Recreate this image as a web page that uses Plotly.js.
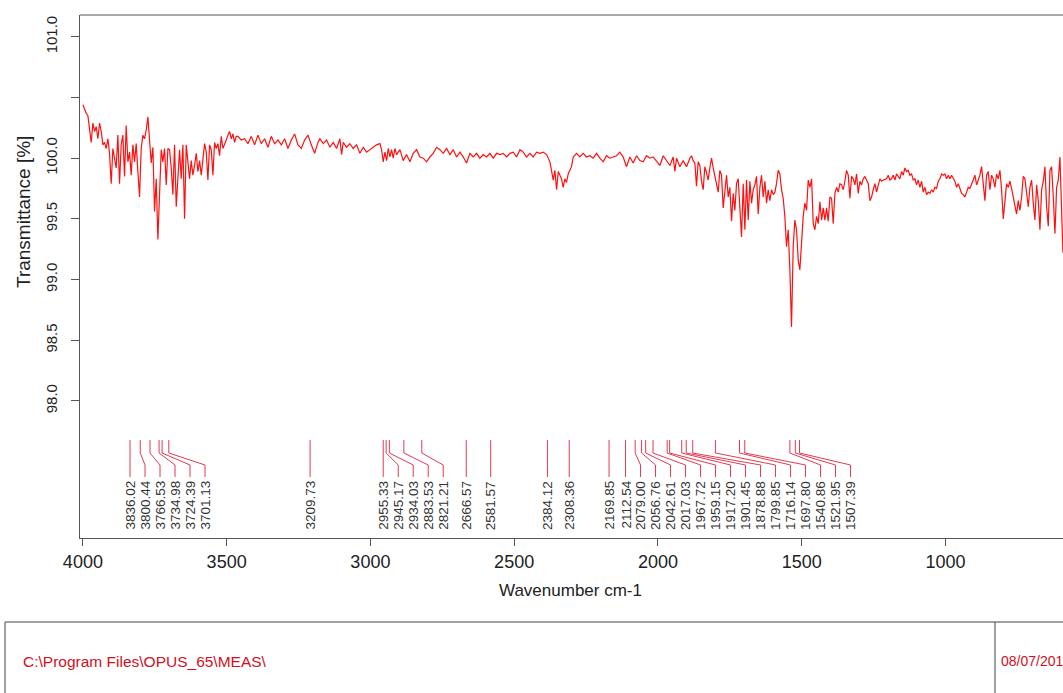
<!DOCTYPE html>
<html>
<head>
<meta charset="utf-8">
<script src="https://cdn.plot.ly/plotly-3.0.1.min.js"></script>
<style>
html,body{margin:0;padding:0;background:#fff;overflow:hidden;}
#chart{width:1063px;height:693px;}
</style>
</head>
<body>
<div id="chart"></div>
<script>
// ---------------- data ----------------
const wavenumber = [
4000.0,3994.2,3988.4,3982.6,3976.8,3971.0,3965.2,3959.4,3953.6,3947.8,3942.0,3936.2,3930.4,3924.6,3918.8,3913.0,3907.3,3901.5,3895.7,3889.9,
3884.1,3878.3,3872.5,3866.7,3860.9,3855.1,3849.3,3843.5,3837.7,3831.9,3826.1,3820.3,3814.5,3808.7,3802.9,3797.1,3791.3,3785.5,3779.7,3773.9,
3768.1,3762.3,3756.5,3750.7,3744.9,3739.1,3733.3,3727.5,3721.7,3715.9,3710.1,3704.3,3698.5,3692.7,3686.9,3681.1,3675.3,3669.5,3663.7,3657.9,
3652.1,3646.3,3640.5,3634.7,3628.9,3623.1,3617.3,3611.5,3605.7,3599.9,3594.1,3588.3,3582.5,3576.7,3570.9,3565.1,3559.3,3553.5,3547.7,3541.9,
3536.1,3530.3,3524.5,3518.7,3512.9,3507.1,3501.3,3495.5,3489.7,3483.9,3478.1,3472.3,3466.5,3460.7,3449.1,3437.5,3425.9,3414.3,3402.7,3391.1,
3379.5,3367.9,3356.3,3344.7,3333.1,3321.5,3309.9,3298.3,3286.7,3275.1,3263.5,3251.9,3240.3,3228.7,3217.1,3205.5,3193.9,3182.3,
3175.6,3164.0,3152.4,3140.8,3129.2,3117.6,3106.0,3100.2,3094.4,3082.9,3071.3,3059.7,3048.1,3036.5,3024.9,3013.3,3001.7,2990.1,2978.5,2966.9,
2961.1,2955.3,2949.5,2943.7,2937.9,2932.1,2926.3,2920.5,2914.7,2908.9,2897.3,2885.7,2874.2,2862.6,2851.0,2839.4,2827.8,2816.2,2804.6,2793.0,
2781.4,2769.8,2758.2,2746.6,2735.0,2723.4,2711.8,2700.2,2688.6,2677.0,2665.5,2653.9,2642.3,2630.7,2619.1,2607.5,2595.9,2584.3,2572.7,2561.1,
2549.5,2537.9,2526.3,2514.7,2503.1,2491.5,2479.9,2468.3,2456.8,2445.2,2433.6,2422.0,2410.4,2398.8,2387.2,2375.6,2369.8,2364.0,2358.2,2352.4,
2346.6,2335.2,2329.4,2323.6,2317.8,2312.0,2306.2,2300.4,2294.6,2283.0,2271.4,2259.8,2248.2,2236.7,2225.1,2213.5,2201.9,2190.3,2178.7,2167.1,
2155.5,2143.9,2132.3,2120.7,2109.1,2097.5,2085.9,2074.3,2062.7,2051.2,2039.6,2028.0,2016.4,2004.8,1993.2,1981.6,1970.0,1958.4,1946.8,1941.0,
1935.2,1923.6,1912.0,1900.4,1888.8,1883.0,1877.2,1871.4,1865.7,1859.9,1854.1,1848.3,1842.5,1836.7,1830.9,1825.1,1819.3,1813.5,1807.7,1801.9,
1796.1,1790.3,1784.5,1778.7,1772.9,1767.1,1761.3,1755.5,1749.7,1743.9,1738.1,1732.3,1726.5,1720.7,1714.9,1709.1,1703.3,1697.5,1691.7,1685.9,
1680.1,1674.3,1668.5,1662.7,1656.9,1651.1,1645.3,1639.5,1633.7,1627.9,1622.1,1616.3,1610.5,1604.7,1598.9,1593.1,1587.4,1581.6,1575.8,1570.0,
1564.2,1558.4,1552.6,1546.8,1541.0,1535.2,1529.4,1523.6,1517.8,1512.0,1506.2,1500.4,1494.6,1488.8,1483.0,
1477.1,1471.3,1465.5,1459.7,1453.9,1448.1,1442.3,1436.5,1430.7,1424.9,1419.1,1413.3,1407.6,1401.8,1396.0,1390.2,1384.4,1378.6,1372.8,1367.0,
1361.2,1355.4,1349.6,1343.8,1338.0,1332.2,1326.4,1320.6,1314.8,1309.0,1303.2,1297.4,1291.6,1285.8,1280.0,1274.2,1268.4,1262.6,1256.8,1251.0,
1245.3,1239.5,1233.7,1227.9,1222.1,1216.3,1204.7,1198.9,1193.1,1187.3,1181.5,1175.7,1169.9,1164.1,1158.3,1152.5,1146.7,1140.9,1135.1,1129.3,
1123.5,1117.7,1111.9,1106.1,1100.3,1094.5,1088.7,1082.9,1077.1,1071.3,1065.5,1059.7,1053.9,1048.1,1042.3,1036.5,1030.7,1024.9,1019.1,1013.3,
1007.5,1001.7,995.9,990.1,984.3,978.5,972.7,966.9,961.1,955.3,949.5,943.8,938.0,932.2,926.4,920.6,914.8,909.0,903.2,897.4,
891.6,885.8,880.0,874.2,868.4,862.6,856.8,851.0,845.2,839.4,833.6,827.8,822.0,816.2,810.4,804.6,798.8,793.0,787.2,781.4,
775.6,769.8,764.0,758.2,752.4,746.6,740.8,735.0,729.2,723.4,717.6,711.8,706.0,700.2,694.4,688.6,682.8,677.0,671.2,665.4,
659.6,653.8,648.0,642.2,636.4,630.6,624.8,619.0,613.2,607.4,601.6,595.8,591.2
];
const transmittance = [
100.44,100.40,100.37,100.35,100.24,100.13,100.29,100.22,100.26,100.16,100.29,100.22,100.11,100.13,100.08,100.16,100.04,99.79,100.08,100.00,
99.92,100.19,99.79,100.11,100.19,99.85,100.27,99.97,100.05,99.86,100.11,99.97,100.12,99.89,99.68,100.08,100.19,100.16,100.23,100.34,
100.11,99.96,100.09,99.56,99.83,99.33,99.70,100.07,99.97,100.08,99.78,100.08,100.07,99.92,99.70,100.11,99.60,99.89,100.07,99.83,
100.11,99.50,100.11,99.97,99.83,99.98,99.86,99.94,100.04,99.89,99.98,99.86,99.97,100.12,100.05,99.82,100.11,100.07,99.86,100.13,
100.08,100.12,100.02,100.18,100.08,100.11,100.15,100.19,100.22,100.16,100.20,100.13,100.18,100.18,100.15,100.16,100.12,100.18,100.11,100.19,
100.12,100.16,100.09,100.18,100.12,100.15,100.11,100.16,100.08,100.15,100.20,100.11,100.08,100.15,100.19,100.11,100.04,100.13,
100.16,100.12,100.15,100.09,100.13,100.08,100.16,100.03,100.13,100.09,100.12,100.08,100.11,100.04,100.09,100.05,100.07,100.09,100.11,100.12,
100.07,99.97,100.05,99.98,100.08,100.01,100.07,100.00,100.08,100.03,100.07,99.98,100.03,99.97,100.04,100.07,100.01,100.00,99.97,100.01,
100.04,100.09,100.07,100.04,100.08,100.03,100.07,100.01,100.05,100.01,99.96,100.04,100.01,100.04,100.00,100.03,100.01,100.04,100.00,100.04,
100.03,100.04,100.01,100.04,100.05,100.01,100.07,100.05,100.01,100.04,100.01,100.05,100.04,100.05,100.03,99.97,99.90,99.82,99.90,99.74,
99.89,99.83,99.76,99.83,99.80,99.87,99.90,99.93,100.01,100.04,100.01,100.04,100.01,100.02,100.00,100.04,100.00,99.97,100.02,100.00,
100.01,100.02,100.05,100.01,99.93,100.01,99.96,100.02,99.98,99.97,100.02,100.00,100.01,99.97,99.94,100.02,99.98,99.94,100.01,99.89,
100.00,99.93,99.98,99.93,100.00,100.02,99.98,99.96,99.77,99.97,99.94,99.81,99.74,99.93,99.88,99.82,99.92,100.00,99.92,99.85,
99.79,99.72,99.90,99.86,99.59,99.76,99.86,99.68,99.76,99.48,99.71,99.57,99.79,99.83,99.60,99.35,99.79,99.41,99.82,99.49,
99.81,99.63,99.74,99.78,99.85,99.54,99.76,99.86,99.68,99.81,99.63,99.74,99.65,99.74,99.70,99.72,99.79,99.90,99.87,99.74,
99.67,99.52,99.27,99.41,99.08,98.61,99.27,99.49,99.41,99.16,99.08,99.33,99.52,99.63,99.57,
99.82,99.76,99.83,99.46,99.41,99.52,99.46,99.64,99.49,99.59,99.49,99.59,99.48,99.68,99.67,99.46,99.71,99.76,99.72,99.79,
99.78,99.74,99.81,99.90,99.86,99.67,99.85,99.83,99.78,99.87,99.71,99.81,99.78,99.83,99.85,99.82,99.79,99.65,99.68,99.74,
99.79,99.72,99.78,99.83,99.81,99.82,99.83,99.86,99.82,99.83,99.86,99.82,99.87,99.85,99.83,99.89,99.86,99.92,99.89,99.90,
99.86,99.87,99.82,99.83,99.78,99.82,99.76,99.81,99.72,99.76,99.70,99.72,99.71,99.74,99.72,99.76,99.75,99.81,99.83,99.87,
99.86,99.87,99.83,99.86,99.83,99.86,99.83,99.81,99.76,99.79,99.75,99.71,99.70,99.68,99.72,99.76,99.75,99.78,99.82,99.86,
99.78,99.82,99.86,99.93,99.81,99.65,99.86,99.89,99.74,99.86,99.83,99.76,99.87,99.83,99.90,99.74,99.50,99.68,99.79,99.76,
99.81,99.75,99.68,99.60,99.54,99.65,99.57,99.68,99.85,99.83,99.71,99.60,99.76,99.82,99.63,99.49,99.78,99.65,99.41,99.74,
99.81,99.93,99.60,99.44,99.90,99.93,99.68,99.38,99.76,99.82,100.01,99.63,99.22
];
const peakPositions = [3836.02,3800.44,3766.53,3734.98,3724.39,3701.13,3209.73,2955.33,2945.17,2934.03,2883.53,2821.21,
  2666.57,2581.57,2384.12,2308.36,2169.85,2112.54,2079.00,2056.76,2042.61,2017.03,1967.72,1959.15,1917.20,1901.45,
  1878.88,1799.85,1716.14,1697.80,1540.86,1521.95,1507.39];
const xTickValues = [4000,3500,3000,2500,2000,1500,1000];
const yTickValues = [98.0,98.5,99.0,99.5,100.0,100.5,101.0];
const yTickLabels = ['98.0','98.5','99.0','99.5','100.0','','101.0'];
const xTitle = 'Wavenumber cm-1';
const yTitle = 'Transmittance [%]';
const pathText = 'C:\\Program Files\\OPUS_65\\MEAS\\';
const dateText = '08/07/201';

// ---------------- layout geometry ----------------
const W = 1063, H = 693;
const M = {l: 80, r: 0, t: 15, b: 155};
const xRange = [4010, 591];
const yRange = [96.87, 101.18];
const plotW = W - M.l - M.r, plotH = H - M.t - M.b;
const unitsPerPx = (xRange[0] - xRange[1]) / plotW;
const pxOfW = w => (xRange[0] - w) / unitsPerPx;          // px from plot left
const wOfPx = p => xRange[0] - p * unitsPerPx;
const paperX = px => (px - M.l) / plotW;                    // page px -> paper
const paperY = py => (H - M.b - py) / plotH;

const FONT = 'Liberation Sans, Arial, sans-serif';
const peakColor = '#e23a52';

// peak marker lines + labels, labels spread to a minimum spacing
const shapes = [];
const annotations = [];
const minGap = 15;
let prev = -1e9;
const yTop = paperY(440), yB1 = paperY(453), yB2 = paperY(465), yBot = paperY(477), yLab = paperY(479);
peakPositions.forEach(w => {
  const p = Math.max(pxOfW(w), prev + minGap);
  prev = p;
  const wl = wOfPx(p);
  shapes.push({type: 'path', xref: 'x', yref: 'paper',
    path: `M ${w},${yTop} L ${w},${yB1} L ${wl},${yB2} L ${wl},${yBot}`,
    line: {color: peakColor, width: 1}});
  annotations.push({xref: 'x', yref: 'paper', x: wl, y: yLab, text: w.toFixed(2),
    showarrow: false, textangle: -90, xanchor: 'center', yanchor: 'top',
    font: {family: FONT, size: 13.5, color: '#333'}});
});

// frame top line
shapes.push({type: 'line', xref: 'paper', yref: 'paper', x0: 0, x1: 1, y0: 1, y1: 1,
  line: {color: '#555', width: 1}});
// bottom info box
shapes.push({type: 'rect', xref: 'paper', yref: 'paper',
  x0: paperX(5), x1: paperX(1120), y0: paperY(622), y1: paperY(740),
  line: {color: '#444', width: 1}});
shapes.push({type: 'line', xref: 'paper', yref: 'paper',
  x0: paperX(995), x1: paperX(995), y0: paperY(622), y1: paperY(740),
  line: {color: '#444', width: 1}});

// axis titles
annotations.push({xref: 'paper', yref: 'paper', x: paperX(570), y: paperY(590), text: xTitle,
  showarrow: false, xanchor: 'center', yanchor: 'middle', font: {family: FONT, size: 17, color: '#222'}});
annotations.push({xref: 'paper', yref: 'paper', x: paperX(23), y: paperY(212), text: yTitle,
  showarrow: false, textangle: -90, xanchor: 'center', yanchor: 'middle', font: {family: FONT, size: 19, color: '#222'}});
// box texts
annotations.push({xref: 'paper', yref: 'paper', x: paperX(21), y: paperY(661), text: pathText,
  showarrow: false, xanchor: 'left', yanchor: 'middle', font: {family: FONT, size: 15.5, color: '#d0101e'}});
annotations.push({xref: 'paper', yref: 'paper', x: paperX(999), y: paperY(661), text: dateText,
  showarrow: false, xanchor: 'left', yanchor: 'middle', font: {family: FONT, size: 14, color: '#d0101e'}});

const trace = {
  x: wavenumber, y: transmittance, type: 'scatter', mode: 'lines',
  line: {color: '#ff1010', width: 1.2}, hoverinfo: 'skip', showlegend: false
};

const layout = {
  width: W, height: H,
  margin: M,
  paper_bgcolor: '#fff', plot_bgcolor: '#fff',
  showlegend: false,
  xaxis: {
    range: xRange, showgrid: false, zeroline: false,
    showline: true, linecolor: '#555', linewidth: 1,
    tickmode: 'array', tickvals: xTickValues, ticktext: xTickValues.map(String),
    ticks: 'outside', ticklen: 7, tickcolor: '#555',
    tickfont: {family: FONT, size: 18, color: '#222'}
  },
  yaxis: {
    range: yRange, showgrid: false, zeroline: false,
    showline: true, linecolor: '#555', linewidth: 1,
    tickmode: 'array', tickvals: yTickValues, ticktext: yTickLabels,
    ticks: 'outside', ticklen: 8, tickcolor: '#555', tickangle: -90,
    ticklabelstandoff: 8,
    tickfont: {family: FONT, size: 15, color: '#222'}
  },
  shapes: shapes,
  annotations: annotations
};

Plotly.newPlot('chart', [trace], layout, {displayModeBar: false, staticPlot: true});
</script>
</body>
</html>
